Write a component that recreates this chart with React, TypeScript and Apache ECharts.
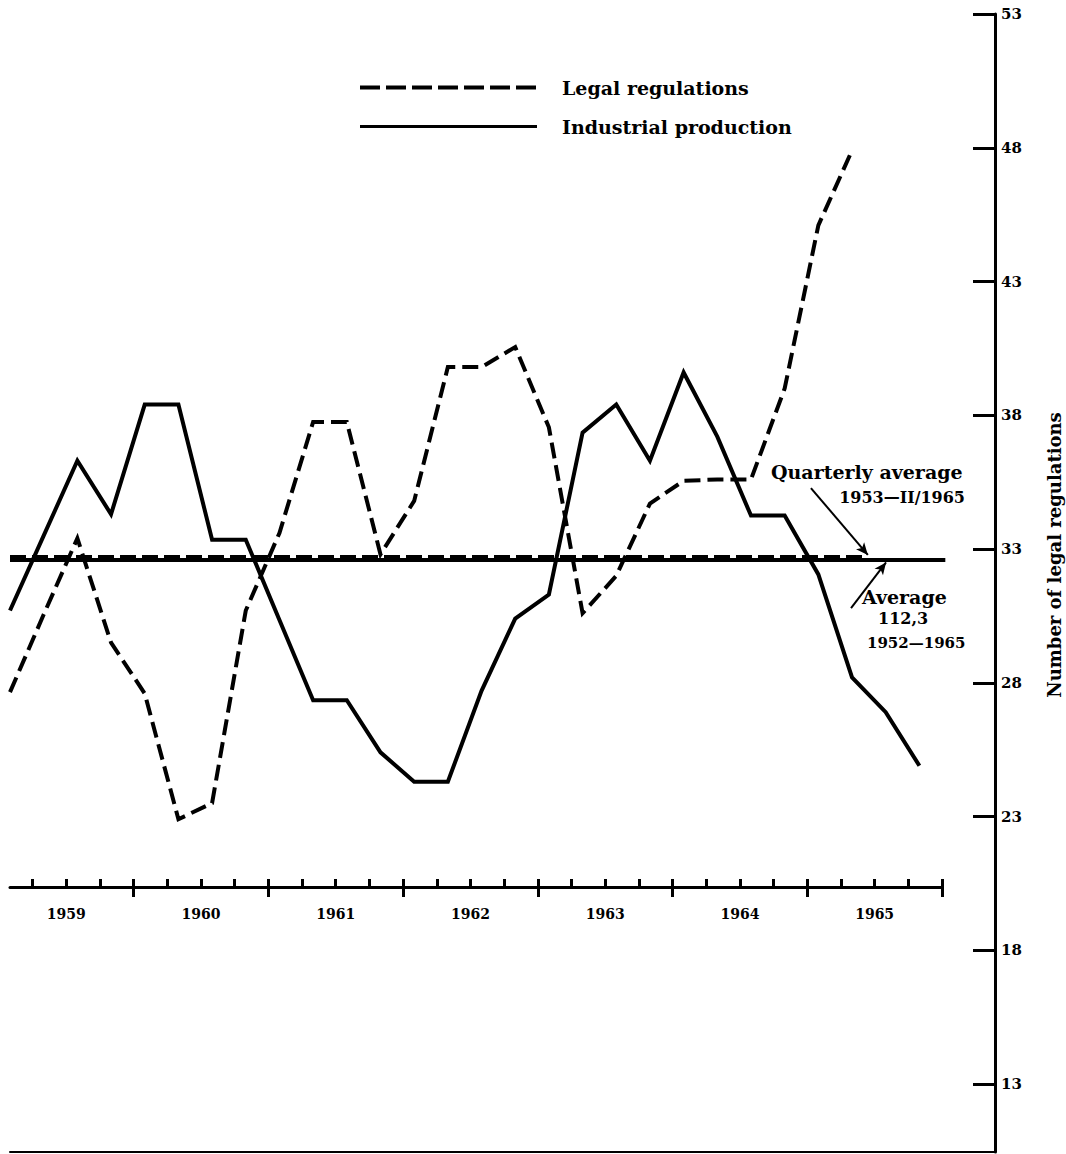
import React, { useEffect, useRef } from "react";
import * as echarts from "echarts";

// ---------- data ----------
const years = ["1959", "1960", "1961", "1962", "1963", "1964", "1965"];
// quarterly values, first point = first plotted quarter of 1959
const legalRegulations = [
  27.65, 30.55, 33.4, 29.5, 27.6, 22.9, 23.5, 30.7, 33.6, 37.75, 37.75, 32.8, 34.8,
  39.8, 39.8, 40.55, 37.55, 30.6, 32.0, 34.7, 35.55, 35.6, 35.6, 39.0, 45.1, 47.9,
];
const industrialProduction = [
  30.7, 33.5, 36.3, 34.3, 38.4, 38.4, 33.35, 33.35, 30.35, 27.35, 27.35, 25.4, 24.3,
  24.3, 27.7, 30.4, 31.3, 37.35, 38.4, 36.3, 39.6, 37.2, 34.25, 34.25, 32.05, 28.2, 26.9, 24.9,
];
const yTickValues = [13, 18, 23, 28, 33, 38, 43, 48, 53];
// x axis unit = quarters since start of 1959
const yearLabelPositions = [2, 6, 10, 14, 18, 22, 26];
const yearBoundaries = [4, 8, 12, 16, 20, 24, 28];
const quarterTicks = [1, 2, 3, 4, 5, 6, 7, 8, 9, 10, 11, 12, 13, 14, 15, 16, 17, 18, 19, 20, 21, 22, 23, 24, 25, 26, 27, 28];
const AVERAGE_LEVEL = 32.6; // industrial production average 112,3 (1952-1965)
const QUARTERLY_AVERAGE_LEVEL = 32.7; // legal regulations quarterly average

// ---------- layout constants ----------
const POINT_PHASE = 0.33;
const X_MIN = 0.33;
const X_MAX_YEARS = 28;
const X_MAX_FRAME = 29.575;
const Y_MIN = 10.46;
const Y_MAX = 53;

const SERIF = "'DejaVu Serif', serif";

export default function App() {
  const ref = useRef<HTMLDivElement>(null);

  useEffect(() => {
    if (!ref.current) return;
    const chart = echarts.init(ref.current, null, { renderer: "svg" });

    const legalData = legalRegulations.map((v, i) => [i + POINT_PHASE, v]);
    const indData = industrialProduction.map((v, i) => [i + POINT_PHASE, v]);

    const option: any = {
      animation: false,
      backgroundColor: "#fff",
      legend: {
        data: [
          { name: "Legal regulations", lineStyle: { width: 4, type: [20, 6], color: "#000" } },
          { name: "Industrial production", lineStyle: { width: 3, type: "solid", color: "#000" } },
        ],
        orient: "vertical",
        left: 358,
        top: 78,
        padding: 0,
        itemWidth: 177,
        itemHeight: 16,
        itemGap: 20,
        itemStyle: { color: "rgba(0,0,0,0)", borderColor: "rgba(0,0,0,0)", borderWidth: 0, opacity: 0 },
        textStyle: {
          fontFamily: SERIF,
          fontWeight: "bold",
          fontSize: 19,
          color: "#000",
          padding: [0, 0, 0, 20],
        },
      },
      grid: [
        { left: 10, right: 71, top: 14, bottom: 2, outerBoundsMode: "none" },
        { left: 10, right: 124, top: 850, height: 37, outerBoundsMode: "none" },
      ],
      xAxis: [
        {
          gridIndex: 0,
          type: "value",
          min: X_MIN,
          max: X_MAX_FRAME,
          axisLine: { show: true, lineStyle: { color: "#000", width: 2 } },
          axisTick: { show: false },
          axisLabel: { show: false },
          splitLine: { show: false },
        },
        {
          gridIndex: 1,
          type: "value",
          position: "bottom",
          min: X_MIN,
          max: X_MAX_YEARS,
          axisLine: { show: true, lineStyle: { color: "#000", width: 3 } },
          axisTick: {
            show: true,
            customValues: yearBoundaries,
            inside: false,
            length: 10,
            lineStyle: { color: "#000", width: 3 },
          },
          axisLabel: {
            show: true,
            customValues: yearLabelPositions,
            formatter: (v: number) => years[Math.round((v - 2) / 4)] ?? "",
            margin: 20,
            fontFamily: SERIF,
            fontWeight: "bold",
            fontSize: 14,
            color: "#000",
          },
          splitLine: { show: false },
        },
        {
          gridIndex: 1,
          type: "value",
          position: "bottom",
          offset: 0,
          min: X_MIN,
          max: X_MAX_YEARS,
          axisLine: { show: false },
          axisTick: {
            show: true,
            customValues: quarterTicks,
            inside: true,
            length: 8,
            lineStyle: { color: "#000", width: 3 },
          },
          axisLabel: { show: false },
          splitLine: { show: false },
        },
      ],
      yAxis: [
        {
          gridIndex: 0,
          type: "value",
          position: "right",
          min: Y_MIN,
          max: Y_MAX,
          name: "Number of legal regulations",
          nameLocation: "middle",
          nameRotate: 90,
          nameGap: 50,
          nameTextStyle: {
            fontFamily: SERIF,
            fontWeight: "bold",
            fontSize: 18,
            color: "#000",
            padding: [0, 0, 0, 56],
          },
          axisLine: { show: true, lineStyle: { color: "#000", width: 3 } },
          axisTick: {
            show: true,
            customValues: yTickValues,
            inside: true,
            length: 22,
            lineStyle: { color: "#000", width: 3 },
          },
          axisLabel: {
            show: true,
            customValues: yTickValues,
            margin: 6,
            fontFamily: SERIF,
            fontWeight: "bold",
            fontSize: 15,
            color: "#000",
          },
          splitLine: { show: false },
        },
        { gridIndex: 1, type: "value", show: false, min: 0, max: 1 },
      ],
      series: [
        {
          name: "Legal regulations",
          type: "line",
          xAxisIndex: 0,
          yAxisIndex: 0,
          data: legalData,
          symbol: "none",
          showSymbol: false,
          color: "#000",
          lineStyle: { color: "#000", width: 4, type: [16, 7], join: "miter", cap: "butt" },
          z: 4,
        },
        {
          name: "Industrial production",
          type: "line",
          xAxisIndex: 0,
          yAxisIndex: 0,
          data: indData,
          symbol: "none",
          showSymbol: false,
          color: "#000",
          lineStyle: { color: "#000", width: 4, type: "solid", join: "miter" },
          z: 3,
          markLine: {
            silent: true,
            animation: false,
            label: { show: false },
            symbol: ["none", "none"],
            data: [
              [
                { coord: [X_MIN, AVERAGE_LEVEL], symbol: "none", lineStyle: { color: "#000", width: 4, type: "solid" } },
                { coord: [28.1, AVERAGE_LEVEL], symbol: "none" },
              ],
              [
                { coord: [X_MIN, QUARTERLY_AVERAGE_LEVEL], symbol: "none", lineStyle: { color: "#000", width: 4, type: [16, 6] } },
                { coord: [25.8, QUARTERLY_AVERAGE_LEVEL], symbol: "none" },
              ],
              [
                { coord: [24.11, 35.28], symbol: "none", lineStyle: { color: "#000", width: 2, type: "solid" } },
                { coord: [25.8, 32.78], symbol: "arrow", symbolSize: [8, 12] },
              ],
              [
                { coord: [25.3, 30.79], symbol: "none", lineStyle: { color: "#000", width: 2, type: "solid" } },
                { coord: [26.34, 32.5], symbol: "arrow", symbolSize: [8, 12] },
              ],
            ],
          },
        },
      ],
      graphic: [
        {
          type: "text",
          x: 771,
          y: 472,
          style: { text: "Quarterly average", font: `bold 19px ${SERIF}`, fill: "#000", textAlign: "left", textVerticalAlign: "middle" },
        },
        {
          type: "text",
          x: 965,
          y: 497,
          style: { text: "1953—II/1965", font: `bold 16px ${SERIF}`, fill: "#000", textAlign: "right", textVerticalAlign: "middle" },
        },
        {
          type: "text",
          x: 862,
          y: 597,
          style: { text: "Average", font: `bold 19px ${SERIF}`, fill: "#000", textAlign: "left", textVerticalAlign: "middle" },
        },
        {
          type: "text",
          x: 878,
          y: 618,
          style: { text: "112,3", font: `bold 16px ${SERIF}`, fill: "#000", textAlign: "left", textVerticalAlign: "middle" },
        },
        {
          type: "text",
          x: 867,
          y: 643,
          style: { text: "1952—1965", font: `bold 15px ${SERIF}`, fill: "#000", textAlign: "left", textVerticalAlign: "middle" },
        },
      ],
    };

    chart.setOption(option);
    return () => chart.dispose();
  }, []);

  return (
    <div
      ref={ref}
      style={{ position: "absolute", left: 0, top: 0, width: 1066, height: 1154, background: "#fff" }}
    />
  );
}
